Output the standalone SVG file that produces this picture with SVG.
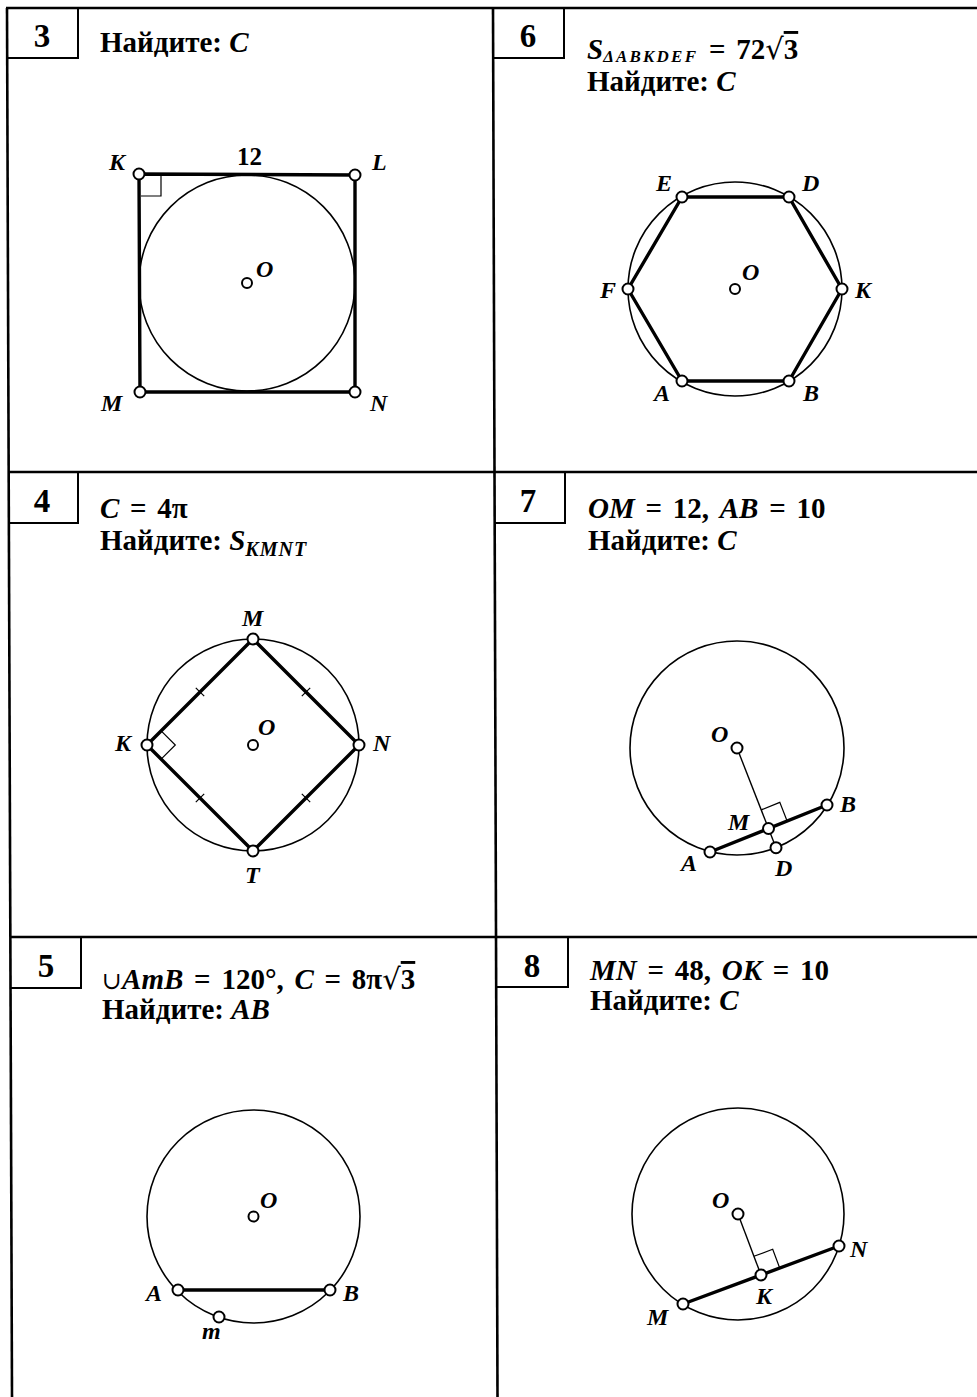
<svg xmlns="http://www.w3.org/2000/svg" width="977" height="1397" viewBox="0 0 977 1397">
<style>
.grid{stroke:#000;stroke-width:2.6;fill:none}
.box{stroke:#000;stroke-width:2;fill:none}
.circ{stroke:#000;stroke-width:1.6;fill:none}
.thick{stroke:#000;stroke-width:3.4;fill:none;stroke-linecap:round;stroke-linejoin:round}
.thin{stroke:#000;stroke-width:1.4;fill:none}
.mark{stroke:#000;stroke-width:1.2;fill:none}
.pt{fill:#fff;stroke:#000;stroke-width:2}
.num{font-family:"Liberation Serif",serif;font-weight:bold;font-size:33px;text-anchor:middle}
.hd{font-family:"Liberation Serif",serif;font-weight:bold;font-size:29px;word-spacing:3.5px}
.fd{word-spacing:0}
.it{font-style:italic}
.cup{font-weight:normal;font-family:"DejaVu Serif",serif;font-size:24px}
.rad{font-family:"DejaVu Serif",serif;font-weight:normal}
.ol{text-decoration:overline}
.sub{font-family:"Liberation Serif",serif;font-weight:bold;font-style:italic;font-size:17px;letter-spacing:2.2px}
.lb{font-family:"Liberation Serif",serif;font-weight:bold;font-style:italic;font-size:24px}
.lbu{font-family:"Liberation Serif",serif;font-weight:bold;font-size:25px}
</style>
<rect x="0" y="0" width="977" height="1397" fill="#fff"/>
<g id="grid">
<line class="grid" x1="6" y1="8" x2="977" y2="8"/>
<line class="grid" x1="7" y1="8" x2="12" y2="1397"/>
<line class="grid" x1="493" y1="8" x2="497.5" y2="1397"/>
<line class="grid" x1="8" y1="472" x2="977" y2="472"/>
<line class="grid" x1="10" y1="937" x2="977" y2="937"/>
</g>

<g id="cell3">
<g id="box3"><polyline class="box" points="78,8 78,58 7,58"/><text class="num" x="42" y="47">3</text></g>
<text class="hd fd" x="100" y="52">Найдите: <tspan class="it">C</tspan></text>
<g id="fig3">
<circle class="circ" cx="247" cy="283" r="108"/>
<polygon class="thick" points="139,174 355,175 355,392 140,392"/>
<polyline class="mark" points="141,196 161,196 161,176"/>
<circle class="pt" cx="139" cy="174" r="5.5"/>
<circle class="pt" cx="355" cy="175" r="5.5"/>
<circle class="pt" cx="140" cy="392" r="5.5"/>
<circle class="pt" cx="355" cy="392" r="5.5"/>
<circle class="pt" cx="247" cy="283" r="5"/>
<text class="lb" x="109" y="170">K</text>
<text class="lb" x="372" y="170">L</text>
<text class="lb" x="101" y="411">M</text>
<text class="lb" x="370" y="411">N</text>
<text class="lb" x="256" y="277">O</text>
<text class="lbu" x="237" y="165">12</text>
</g>
</g>

<g id="cell6">
<g id="box6"><polyline class="box" points="564,8 564,58 493,58"/><text class="num" x="528" y="47">6</text></g>
<text class="hd" x="587" y="59"><tspan class="it">S</tspan><tspan class="sub" dy="3">ΔABKDEF</tspan><tspan dy="-3"> = 72</tspan><tspan class="rad">√</tspan><tspan class="ol">3</tspan></text>
<text class="hd fd" x="587" y="91">Найдите: <tspan class="it">C</tspan></text>
<g id="fig6">
<circle class="circ" cx="735" cy="289" r="107"/>
<polygon class="thick" points="682,197 789,197 842,289 789,381 682,381 628,289"/>
<circle class="pt" cx="682" cy="197" r="5.5"/>
<circle class="pt" cx="789" cy="197" r="5.5"/>
<circle class="pt" cx="842" cy="289" r="5.5"/>
<circle class="pt" cx="789" cy="381" r="5.5"/>
<circle class="pt" cx="682" cy="381" r="5.5"/>
<circle class="pt" cx="628" cy="289" r="5.5"/>
<circle class="pt" cx="735" cy="289" r="5"/>
<text class="lb" x="656" y="191">E</text>
<text class="lb" x="802" y="191">D</text>
<text class="lb" x="600" y="298">F</text>
<text class="lb" x="855" y="298">K</text>
<text class="lb" x="654" y="401">A</text>
<text class="lb" x="803" y="401">B</text>
<text class="lb" x="742" y="280">O</text>
</g>
</g>

<g id="cell4">
<g id="box4"><polyline class="box" points="78,472 78,523 8,523"/><text class="num" x="42" y="512">4</text></g>
<text class="hd" x="100" y="518"><tspan class="it">C</tspan> = 4π</text>
<text class="hd fd" x="100" y="550">Найдите: <tspan class="it">S</tspan><tspan class="sub" dy="6" style="font-size:20px;letter-spacing:1px">KMNT</tspan></text>
<g id="fig4">
<circle class="circ" cx="253" cy="745" r="106"/>
<polygon class="thick" points="253,639 359,745 253,851 147,745"/>
<polyline class="mark" points="161.1,730.9 175.3,745 161.1,759.1"/>
<line class="mark" x1="195.8" y1="687.8" x2="204.2" y2="696.2"/>
<line class="mark" x1="301.8" y1="696.2" x2="310.2" y2="687.8"/>
<line class="mark" x1="301.8" y1="793.8" x2="310.2" y2="802.2"/>
<line class="mark" x1="195.8" y1="802.2" x2="204.2" y2="793.8"/>
<circle class="pt" cx="253" cy="639" r="5.5"/>
<circle class="pt" cx="359" cy="745" r="5.5"/>
<circle class="pt" cx="253" cy="851" r="5.5"/>
<circle class="pt" cx="147" cy="745" r="5.5"/>
<circle class="pt" cx="253" cy="745" r="5"/>
<text class="lb" x="242" y="626">M</text>
<text class="lb" x="115" y="751">K</text>
<text class="lb" x="373" y="751">N</text>
<text class="lb" x="245" y="883">T</text>
<text class="lb" x="258" y="735">O</text>
</g>
</g>

<g id="cell7">
<g id="box7"><polyline class="box" points="565,472 565,523 494,523"/><text class="num" x="528" y="512">7</text></g>
<text class="hd" x="588" y="518"><tspan class="it">OM</tspan> = 12, <tspan class="it">AB</tspan> = 10</text>
<text class="hd fd" x="588" y="550">Найдите: <tspan class="it">C</tspan></text>
<g id="fig7">
<circle class="circ" cx="737" cy="748" r="107"/>
<line class="thin" x1="737" y1="748" x2="776" y2="847.7"/>
<line class="thick" x1="710" y1="852" x2="827" y2="805"/>
<polyline class="mark" points="761.2,809.9 779.8,802.4 787.1,821"/>
<circle class="pt" cx="737" cy="748" r="5.5"/>
<circle class="pt" cx="710" cy="852" r="5.5"/>
<circle class="pt" cx="827" cy="805" r="5.5"/>
<circle class="pt" cx="768.5" cy="828.5" r="5.5"/>
<circle class="pt" cx="776" cy="847.7" r="5.5"/>
<text class="lb" x="711" y="742">O</text>
<text class="lb" x="840" y="812">B</text>
<text class="lb" x="728" y="830">M</text>
<text class="lb" x="681" y="871">A</text>
<text class="lb" x="775" y="876">D</text>
</g>
</g>

<g id="cell5">
<g id="box5"><polyline class="box" points="81,937 81,988 11,988"/><text class="num" x="46" y="977">5</text></g>
<text class="hd" x="102" y="989"><tspan class="cup">∪</tspan><tspan class="it">AmB</tspan> = 120°, <tspan class="it">C</tspan> = 8π<tspan class="rad">√</tspan><tspan class="ol">3</tspan></text>
<text class="hd fd" x="102" y="1019">Найдите: <tspan class="it">AB</tspan></text>
<g id="fig5">
<circle class="circ" cx="253.5" cy="1216.5" r="106.5"/>
<line class="thick" x1="178" y1="1290" x2="330" y2="1290"/>
<circle class="pt" cx="178" cy="1290" r="5.5"/>
<circle class="pt" cx="330" cy="1290" r="5.5"/>
<circle class="pt" cx="219" cy="1317" r="5.5"/>
<circle class="pt" cx="253.5" cy="1216.5" r="5"/>
<text class="lb" x="146" y="1301">A</text>
<text class="lb" x="343" y="1301">B</text>
<text class="lb" x="202" y="1339">m</text>
<text class="lb" x="260" y="1208">O</text>
</g>
</g>

<g id="cell8">
<g id="box8"><polyline class="box" points="568,937 568,987 496,987"/><text class="num" x="532" y="977">8</text></g>
<text class="hd" x="590" y="980"><tspan class="it">MN</tspan> = 48, <tspan class="it">OK</tspan> = 10</text>
<text class="hd fd" x="590" y="1010">Найдите: <tspan class="it">C</tspan></text>
<g id="fig8">
<circle class="circ" cx="738" cy="1214" r="106"/>
<line class="thin" x1="738" y1="1214" x2="761" y2="1275"/>
<line class="thick" x1="683" y1="1304" x2="839" y2="1246"/>
<polyline class="mark" points="753.9,1256.3 772.7,1249.3 779.7,1268"/>
<circle class="pt" cx="738" cy="1214" r="5.5"/>
<circle class="pt" cx="683" cy="1304" r="5.5"/>
<circle class="pt" cx="839" cy="1246" r="5.5"/>
<circle class="pt" cx="761" cy="1275" r="5.5"/>
<text class="lb" x="712" y="1208">O</text>
<text class="lb" x="850" y="1257">N</text>
<text class="lb" x="756" y="1304">K</text>
<text class="lb" x="647" y="1325">M</text>
</g>
</g>
</svg>
